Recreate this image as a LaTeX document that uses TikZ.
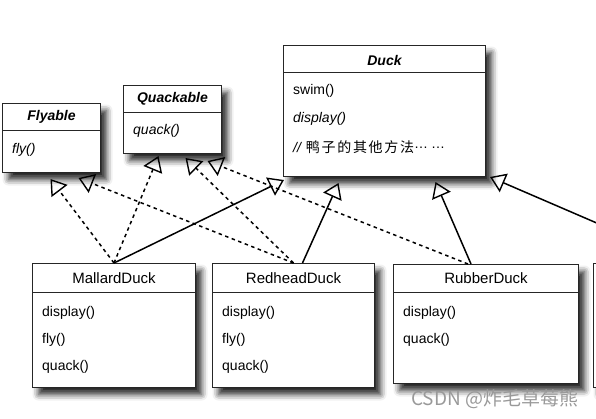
\documentclass[tikz,border=0pt]{standalone}
\usepackage{fontspec}
\setmainfont{Liberation Sans}
\newfontfamily\cjk[LetterSpace=12]{Noto Sans CJK SC}
\newfontfamily\cjkmark{Noto Sans CJK SC}
\usetikzlibrary{arrows.meta, shadows.blur, positioning}

\begin{document}
\begin{tikzpicture}[x=1pt, y=-1pt,
		classbox/.style={draw=black!85, line width=1pt, fill=white, anchor=north west,
			inner sep=0pt, blur shadow={shadow xshift=6pt, shadow yshift=-7pt,
			shadow blur radius=6pt, shadow opacity=85}},
		divider/.style={draw=black!85, line width=1pt},
		clsname/.style={font=\fontsize{15}{17}\selectfont},
		ifname/.style={font=\fontsize{14}{16}\selectfont\bfseries\itshape},
		member/.style={anchor=west, inner sep=0pt, font=\fontsize{14}{16}\selectfont},
		extends/.style={line width=1.5pt, -{Triangle[open, length=15pt, width=20pt, line width=1.4pt]}},
		implements/.style={extends, dash pattern=on 3.5pt off 3.5pt},
	]
	\clip (0,0) rectangle (596,418);

	% interfaces
	\node[classbox, minimum width=98pt, minimum height=69pt] (flyable) at (2,103) {};
	\draw[divider] ([yshift=-27pt]flyable.north west) -- ([yshift=-27pt]flyable.north east);
	\node[ifname] (flyname) at ([yshift=-14pt]flyable.north) {Flyable};
	\node[member] (flyfly) at ([xshift=10pt, yshift=-47pt]flyable.north west) {\itshape fly()};

	\node[classbox, minimum width=98pt, minimum height=68pt] (quackable) at (123,85) {};
	\draw[divider] ([yshift=-27pt]quackable.north west) -- ([yshift=-27pt]quackable.north east);
	\node[ifname] (quackname) at ([yshift=-14pt]quackable.north) {Quackable};
	\node[member] (quackquack) at ([xshift=10pt, yshift=-46pt]quackable.north west) {\itshape quack()};

	% superclass
	\node[classbox, minimum width=202pt, minimum height=131pt] (duck) at (283,45) {};
	\draw[divider] ([yshift=-27pt]duck.north west) -- ([yshift=-27pt]duck.north east);
	\node[ifname] (duckname) at ([yshift=-15pt]duck.north) {Duck};
	\node[member] (duckswim) at ([xshift=10pt, yshift=-46pt]duck.north west) {swim()};
	\node[member] (duckdisplay) at ([xshift=10pt, yshift=-74pt]duck.north west) {\itshape display()};
	\node[member] (duckother) at ([xshift=10pt, yshift=-102pt]duck.north west) {{\itshape //}\hspace{5pt}{\cjk 鸭子的其他方法}\raisebox{4pt}{…}\hspace{3pt}\raisebox{4pt}{…}};

	% subclasses
	\node[classbox, minimum width=163pt, minimum height=124pt] (mallard) at (32,263) {};
	\draw[divider] ([yshift=-29pt]mallard.north west) -- ([yshift=-29pt]mallard.north east);
	\node[clsname] (mallardname) at ([yshift=-15pt]mallard.north) {MallardDuck};
	\node[member] (mallarddisplay) at ([xshift=10pt, yshift=-50pt]mallard.north west) {display()};
	\node[member] (mallardfly) at ([xshift=10pt, yshift=-77pt]mallard.north west) {fly()};
	\node[member] (mallardquack) at ([xshift=10pt, yshift=-104pt]mallard.north west) {quack()};

	\node[classbox, minimum width=162pt, minimum height=124pt] (redhead) at (212,263) {};
	\draw[divider] ([yshift=-29pt]redhead.north west) -- ([yshift=-29pt]redhead.north east);
	\node[clsname] (redheadname) at ([yshift=-15pt]redhead.north) {RedheadDuck};
	\node[member] (redheaddisplay) at ([xshift=10pt, yshift=-50pt]redhead.north west) {display()};
	\node[member] (redheadfly) at ([xshift=10pt, yshift=-77pt]redhead.north west) {fly()};
	\node[member] (redheadquack) at ([xshift=10pt, yshift=-104pt]redhead.north west) {quack()};

	\node[classbox, minimum width=185pt, minimum height=119pt] (rubber) at (393,264) {};
	\draw[divider] ([yshift=-28pt]rubber.north west) -- ([yshift=-28pt]rubber.north east);
	\node[clsname] (rubbername) at ([yshift=-14pt]rubber.north) {RubberDuck};
	\node[member] (rubberdisplay) at ([xshift=10pt, yshift=-49pt]rubber.north west) {display()};
	\node[member] (rubberquack) at ([xshift=10pt, yshift=-76pt]rubber.north west) {quack()};

	\node[classbox, minimum width=192pt, minimum height=124pt] (decoy) at (593,263) {};

	% implements
	\draw[implements] (mallard.north) to ([xshift=-1pt, yshift=-6pt]flyable.south);
	\draw[implements] (redhead.north) to ([xshift=27pt, yshift=-5pt]flyable.south);
	\draw[implements] (mallard.north) to ([xshift=-14pt, yshift=-2pt]quackable.south);
	\draw[implements] (redhead.north) to ([xshift=13pt, yshift=-4pt]quackable.south);
	\draw[implements] ([xshift=-18pt]rubber.north) to ([xshift=35pt, yshift=-7pt]quackable.south);

	% extends
	\draw[extends] (mallard.north) to ([xshift=1pt, yshift=-3pt]duck.south west);
	\draw[extends] ([xshift=9pt]redhead.north) to ([xshift=-46pt, yshift=-6pt]duck.south);
	\draw[extends] ([xshift=-15pt]rubber.north) to ([xshift=51pt, yshift=-5pt]duck.south);
	\draw[extends] (decoy.north) to ([xshift=4pt]duck.south east);

	\node[anchor=base west, inner sep=0pt, text=black!40, font=\cjkmark\fontsize{19}{21}\selectfont] (mark) at (411,405) {CSDN @炸毛草莓熊};
\end{tikzpicture}
\end{document}
